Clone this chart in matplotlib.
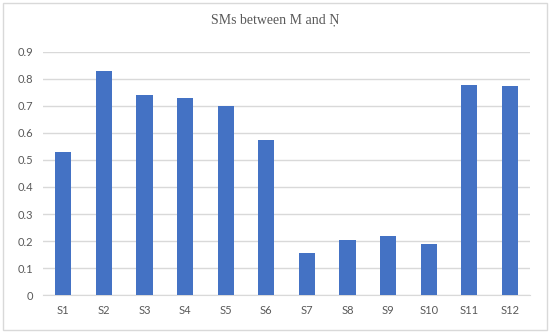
import matplotlib
matplotlib.use("Agg")
import matplotlib.pyplot as plt
from matplotlib.patches import Rectangle

categories = ["S1", "S2", "S3", "S4", "S5", "S6", "S7", "S8", "S9", "S10", "S11", "S12"]
values = [0.531, 0.83, 0.74, 0.73, 0.70, 0.575, 0.155, 0.205, 0.22, 0.19, 0.776, 0.775]
yticks = [0, 0.1, 0.2, 0.3, 0.4, 0.5, 0.6, 0.7, 0.8, 0.9]
ytick_labels = ["0", "0.1", "0.2", "0.3", "0.4", "0.5", "0.6", "0.7", "0.8", "0.9"]
title = "SMs between M and \u1e46"

fig = plt.figure(figsize=(5.5, 3.33), dpi=100)
fig.patches.append(Rectangle((0.006, 0.009), 0.988, 0.982, transform=fig.transFigure,
                             fill=False, edgecolor="#D9D9D9", linewidth=1.0))
ax = fig.add_axes([0.078, 0.114, 0.886, 0.730])
x = list(range(len(categories)))
ax.bar(x, values, width=0.4, color="#4472C4", zorder=3)
ax.set_xlim(-0.5, len(categories) - 0.5)
ax.set_ylim(0, 0.9)
ax.set_yticks(yticks)
ax.set_yticklabels(ytick_labels)
ax.set_xticks(x)
ax.set_xticklabels(categories)
ax.grid(axis="y", color="#D9D9D9", linewidth=1.0, zorder=0)
for s in ["top", "right", "left"]:
    ax.spines[s].set_visible(False)
ax.spines["bottom"].set_color("#D9D9D9")
ax.tick_params(axis="both", length=0, labelsize=8, labelcolor="#595959", pad=7)
for lab in ax.get_xticklabels() + ax.get_yticklabels():
    lab.set_family(["Lato", "DejaVu Sans"])
fig.text(0.5, 0.94, title, ha="center", va="center", fontsize=10, color="#595959",
         family=["Liberation Serif", "DejaVu Serif"])
fig.savefig("out.png", dpi=100)
